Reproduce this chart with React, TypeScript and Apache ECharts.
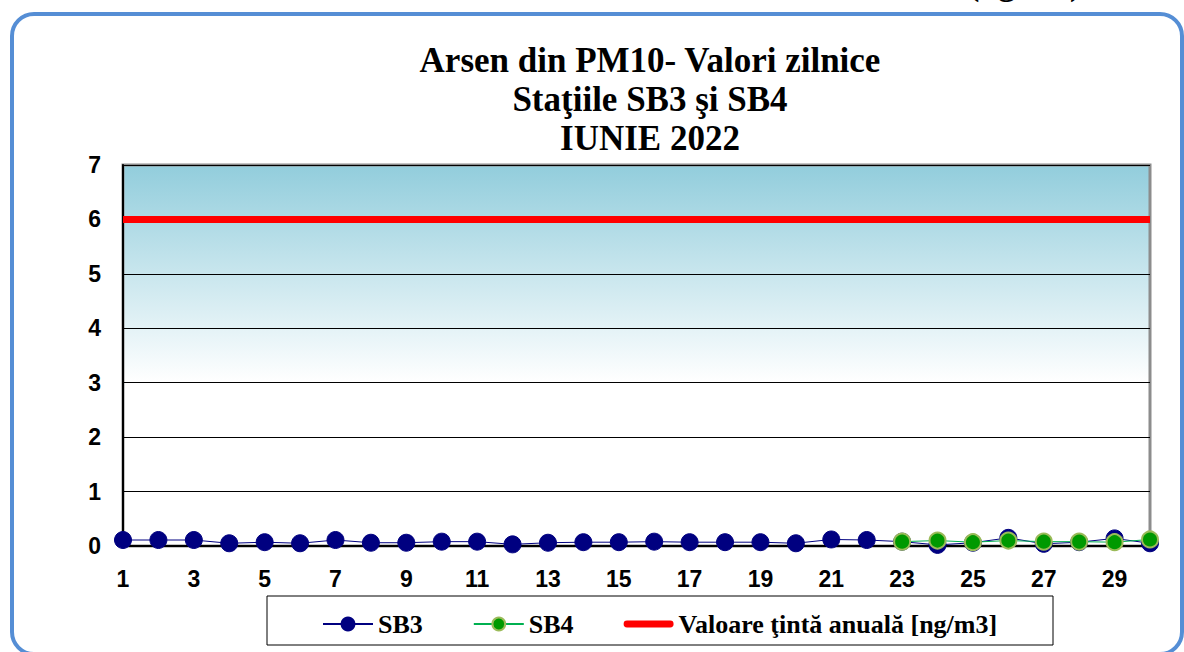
import React, { useEffect, useRef } from "react";
import * as echarts from "echarts";

const days = ["1","2","3","4","5","6","7","8","9","10","11","12","13","14","15","16","17","18","19","20","21","22","23","24","25","26","27","28","29","30"];
const sb3 = [0.11,0.11,0.11,0.05,0.07,0.05,0.11,0.06,0.06,0.08,0.08,0.03,0.06,0.07,0.07,0.08,0.07,0.07,0.07,0.05,0.12,0.11,0.08,0.02,0.06,0.15,0.04,0.07,0.14,0.05];
const sb4 = [null,null,null,null,null,null,null,null,null,null,null,null,null,null,null,null,null,null,null,null,null,null,0.08,0.1,0.07,0.1,0.08,0.08,0.07,0.12];
const target = [6,6,6,6,6,6,6,6,6,6,6,6,6,6,6,6,6,6,6,6,6,6,6,6,6,6,6,6,6,6];
const yTicks = [0,1,2,3,4,5,6,7];
const titleText = "Arsen din PM10- Valori zilnice\nStaţiile SB3 şi SB4\nIUNIE 2022";
const seriesNames = ["SB3", "SB4", "Valoare ţintă anuală [ng/m3]"];

export default function App() {
  const ref = useRef<HTMLDivElement>(null);
  useEffect(() => {
    const chart = echarts.init(ref.current!, null, { renderer: "svg" });
    const serif = "'Liberation Serif', 'Times New Roman', serif";
    const sans = "'Liberation Sans', Arial, sans-serif";
    chart.setOption({
      animation: false,
      backgroundColor: "#ffffff",
      title: {
        text: titleText,
        left: 645,
        top: 36,
        textAlign: "center",
        textStyle: { fontFamily: serif, fontWeight: "bold", fontSize: 35, lineHeight: 39, color: "#000" },
      },
      graphic: [
        { type: "rect", shape: { x: 12, y: 14, width: 1170, height: 640, r: 22 }, style: { fill: "none", stroke: "#558ED5", lineWidth: 4 }, z: 0 },
        { type: "rect", shape: { x: 267, y: 596, width: 786, height: 49 }, style: { fill: "#fff", stroke: "#000", lineWidth: 1 }, z: 1 },
        { type: "text", x: 968, y: 0, style: { text: "(ng/m3)", font: "bold 34px 'Liberation Serif', serif", fill: "#000", textVerticalAlign: "bottom" }, z: 1 },
      ],
      legend: {
        data: [
          { name: seriesNames[0] },
          { name: seriesNames[1] },
          { name: seriesNames[2], icon: "path://M3,0 H47 A3.5,3.5 0 0 1 47,7 H3 A3.5,3.5 0 0 1 3,0 Z", itemStyle: { color: "#FF0000" } },
        ],
        left: 317,
        top: 606,
        itemWidth: 50,
        itemHeight: 16,
        itemGap: 50,
        textStyle: { fontFamily: serif, fontWeight: "bold", fontSize: 26, color: "#000" },
        z: 5,
      },
      grid: {
        left: 123,
        right: 34,
        top: 165,
        bottom: 106,
        show: true,
        borderColor: "#8c8c8c",
        borderWidth: 3,
        backgroundColor: new echarts.graphic.LinearGradient(0, 0, 0, 1, [
          { offset: 0, color: "#92CDDC" },
          { offset: 0.57, color: "#ffffff" },
          { offset: 1, color: "#ffffff" },
        ]),
      },
      xAxis: {
        type: "category",
        data: days,
        boundaryGap: false,
        axisLine: { lineStyle: { color: "#000", width: 2 } },
        axisTick: { show: false },
        axisLabel: { interval: 1, margin: 21, fontFamily: sans, fontWeight: "bold", fontSize: 23, color: "#000" },
        splitLine: { show: false },
      },
      yAxis: {
        type: "value",
        min: yTicks[0],
        max: yTicks[yTicks.length - 1],
        interval: 1,
        axisLine: { show: true, lineStyle: { color: "#000", width: 2 } },
        axisTick: { show: false },
        axisLabel: { margin: 22, fontFamily: sans, fontWeight: "bold", fontSize: 23, color: "#000" },
        splitLine: { show: true, lineStyle: { color: "#000", width: 1 } },
      },
      series: [
        {
          name: seriesNames[2],
          type: "line",
          data: target,
          symbol: "none",
          lineStyle: { color: "#FF0000", width: 7 },
          itemStyle: { color: "#FF0000" },
          z: 2,
        },
        {
          name: seriesNames[0],
          type: "line",
          data: sb3,
          symbol: "circle",
          symbolSize: 17,
          lineStyle: { color: "#000080", width: 1 },
          itemStyle: { color: "#000080", borderColor: "#000080", borderWidth: 1 },
          z: 3,
        },
        {
          name: seriesNames[1],
          type: "line",
          data: sb4,
          symbol: "circle",
          symbolSize: 16,
          lineStyle: { color: "#00B050", width: 1 },
          itemStyle: { color: "#009900", borderColor: "#9BBB59", borderWidth: 2 },
          z: 4,
        },
      ],
    });
    return () => chart.dispose();
  }, []);
  return <div ref={ref} style={{ position: "fixed", left: 0, top: 0, width: 1184, height: 652 }} />;
}
